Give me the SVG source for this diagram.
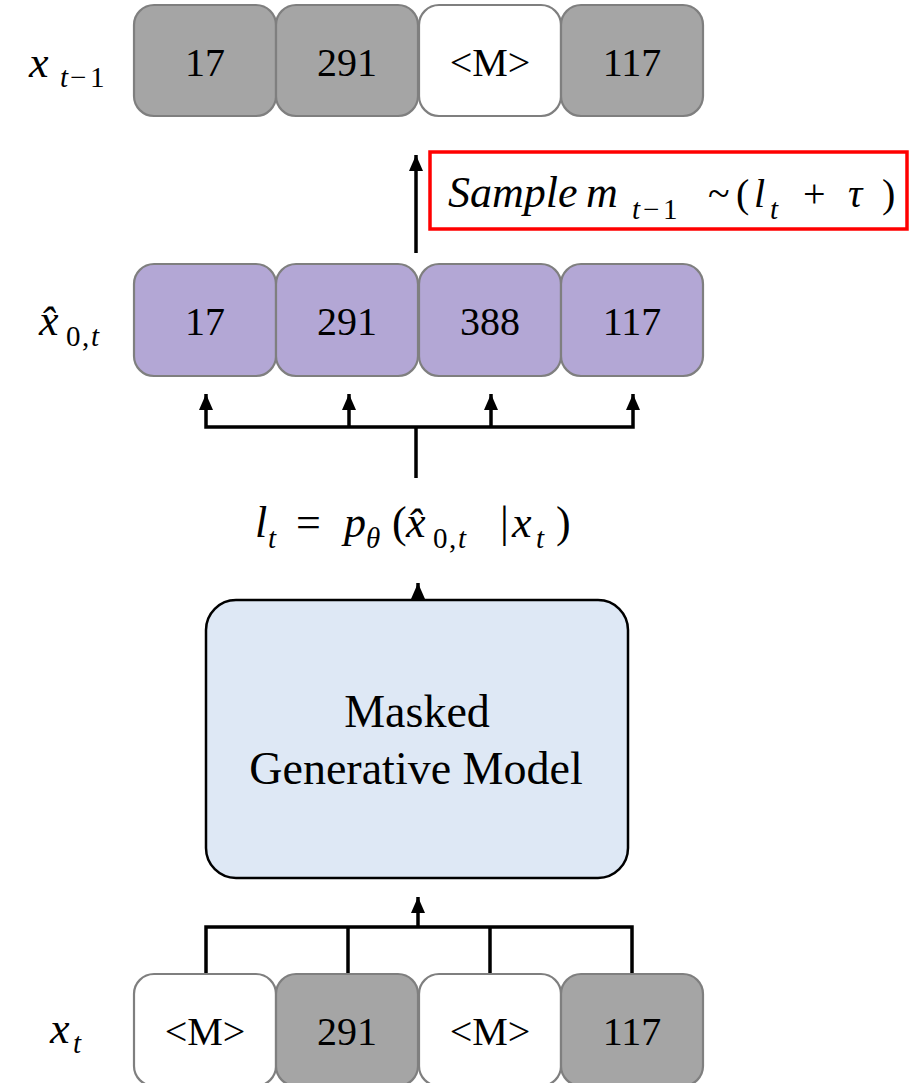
<svg xmlns="http://www.w3.org/2000/svg" width="912" height="1083" viewBox="0 0 912 1083">
<style>
.tok{stroke:#7f7f7f;stroke-width:2.2}
.gray{fill:#a5a5a5}
.white{fill:#ffffff}
.purple{fill:#b3a7d5}
.num{font-size:40px;fill:#000;text-anchor:middle}
.m{font-size:40px;fill:#000}
.i{font-style:italic}
.s{font-size:29px}
.ln{stroke:#000;stroke-width:3.5;fill:none}
</style>
<defs>
<marker id="ah" markerUnits="userSpaceOnUse" markerWidth="16" markerHeight="18" refX="8" refY="1" orient="0" viewBox="0 0 16 18">
<path d="M8,1 L15,17 L1,17 Z" fill="#000"/>
</marker>
</defs>

<g id="connectors">
<line class="ln" x1="416" y1="253" x2="416" y2="155" marker-end="url(#ah)"/>
<polyline class="ln" points="206,394 206,427 633,427 633,394" marker-start="url(#ah)" marker-end="url(#ah)"/>
<line class="ln" x1="349" y1="427" x2="349" y2="394" marker-end="url(#ah)"/>
<line class="ln" x1="491" y1="427" x2="491" y2="394" marker-end="url(#ah)"/>
<line class="ln" x1="416" y1="427" x2="416" y2="478"/>
<line class="ln" x1="418" y1="600" x2="418" y2="583" marker-end="url(#ah)"/>
<line class="ln" x1="418" y1="927" x2="418" y2="897" marker-end="url(#ah)"/>
<polyline class="ln" points="206,974 206,927 632,927 632,974"/>
<line class="ln" x1="348" y1="927" x2="348" y2="974"/>
<line class="ln" x1="490" y1="927" x2="490" y2="974"/>
</g>

<g font-family="Liberation Serif, Tinos, DejaVu Serif, serif">
<g id="label-xt1">
<text class="m"><tspan class="i" x="29" y="77" style="font-size:44px">x</tspan><tspan class="i s" x="60" y="87">t</tspan><tspan class="s" x="70" y="87">−</tspan><tspan class="s" x="90" y="87">1</tspan></text>
</g>

<g id="row-xt1">
<g id="top-1"><rect class="tok gray" x="134" y="5" width="142" height="111" rx="20"/><text class="num" x="205" y="76">17</text></g>
<g id="top-2"><rect class="tok gray" x="276" y="5" width="142" height="111" rx="20"/><text class="num" x="347" y="76">291</text></g>
<g id="top-3"><rect class="tok white" x="419" y="5" width="142" height="111" rx="20"/><text class="num" x="490" y="76">&lt;M&gt;</text></g>
<g id="top-4"><rect class="tok gray" x="561" y="5" width="142" height="111" rx="20"/><text class="num" x="632" y="76">117</text></g>
</g>

<g id="sample-label">
<rect x="430" y="152" width="477" height="77" fill="#fff" stroke="#ff0000" stroke-width="3.5"/>
<text class="m"><tspan class="i" x="448" y="207" style="font-size:44px">Sample</tspan><tspan class="i" x="586" y="207" style="font-size:44px">m</tspan><tspan class="i s" x="632" y="219">t</tspan><tspan class="s" x="643" y="219">−</tspan><tspan class="s" x="663" y="219">1</tspan><tspan x="708" y="207">~</tspan><tspan x="736" y="207">(</tspan><tspan class="i" x="754" y="207">l</tspan><tspan class="i s" x="770" y="219">t</tspan><tspan x="803" y="207">+</tspan><tspan class="i" x="848" y="207">τ</tspan><tspan x="882" y="207">)</tspan></text>
</g>

<g id="label-x0t">
<text class="m"><tspan class="i" x="39" y="335" style="font-size:44px">x̂</tspan><tspan class="s" x="66" y="346">0</tspan><tspan class="s" x="82" y="346">,</tspan><tspan class="i s" x="91" y="346">t</tspan></text>
</g>

<g id="row-x0t">
<g id="mid-1"><rect class="tok purple" x="134" y="264" width="142" height="112" rx="20"/><text class="num" x="205" y="335">17</text></g>
<g id="mid-2"><rect class="tok purple" x="276" y="264" width="142" height="112" rx="20"/><text class="num" x="347" y="335">291</text></g>
<g id="mid-3"><rect class="tok purple" x="419" y="264" width="142" height="112" rx="20"/><text class="num" x="490" y="335">388</text></g>
<g id="mid-4"><rect class="tok purple" x="561" y="264" width="142" height="112" rx="20"/><text class="num" x="632" y="335">117</text></g>
</g>

<g id="formula">
<text class="m" style="font-size:44px"><tspan class="i" x="255" y="537">l</tspan><tspan class="i s" x="268" y="548">t</tspan><tspan x="296" y="537">=</tspan><tspan class="i" x="344" y="537">p</tspan><tspan class="i s" x="366" y="548">θ</tspan><tspan x="392" y="537">(</tspan><tspan class="i" x="406" y="537">x̂</tspan><tspan class="s" x="433" y="548">0</tspan><tspan class="s" x="449" y="548">,</tspan><tspan class="i s" x="458" y="548">t</tspan><tspan x="500" y="537">|</tspan><tspan class="i" x="512" y="537">x</tspan><tspan class="i s" x="536" y="548">t</tspan><tspan x="556" y="537">)</tspan></text>
</g>

<g id="model">
<rect x="206" y="600" width="422" height="278" rx="30" fill="#dee8f5" stroke="#000" stroke-width="2.5"/>
<text class="num" x="417" y="727" style="font-size:46px">Masked</text>
<text class="num" x="416" y="784" style="font-size:46px">Generative Model</text>
</g>

<g id="label-xt">
<text class="m"><tspan class="i" x="50" y="1043" style="font-size:44px">x</tspan><tspan class="i s" x="73" y="1053">t</tspan></text>
</g>

<g id="row-xt">
<g id="bot-1"><rect class="tok white" x="134" y="974" width="142" height="112" rx="20"/><text class="num" x="205" y="1045">&lt;M&gt;</text></g>
<g id="bot-2"><rect class="tok gray" x="276" y="974" width="142" height="112" rx="20"/><text class="num" x="347" y="1045">291</text></g>
<g id="bot-3"><rect class="tok white" x="419" y="974" width="142" height="112" rx="20"/><text class="num" x="490" y="1045">&lt;M&gt;</text></g>
<g id="bot-4"><rect class="tok gray" x="561" y="974" width="142" height="112" rx="20"/><text class="num" x="632" y="1045">117</text></g>
</g>
</g>
</svg>
